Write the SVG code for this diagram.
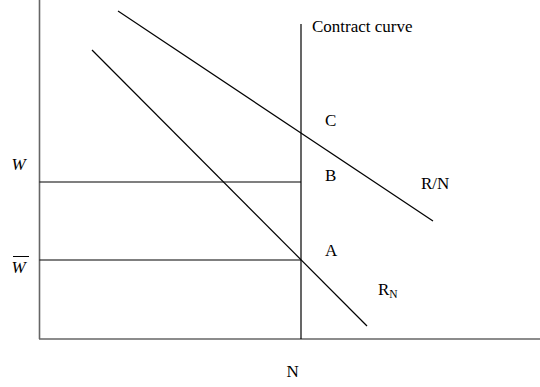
<svg xmlns="http://www.w3.org/2000/svg" width="540" height="387" viewBox="0 0 540 387">
<style>
.t{font-family:"Liberation Serif","Times New Roman",serif;font-size:17px;fill:#000}
.ax{stroke:#666;stroke-width:1.6;fill:none}
.ln{stroke:#000;stroke-width:1.2;fill:none}
</style>
<rect width="540" height="387" fill="#fff"/>
<g id="axes">
<line class="ax" x1="39.5" y1="0" x2="39.5" y2="339"/>
<line class="ax" x1="39" y1="339" x2="540" y2="339"/>
</g>
<g id="connectors">
<line class="ln" x1="301" y1="24" x2="301" y2="339"/>
<line class="ln" x1="39.5" y1="182" x2="301" y2="182"/>
<line class="ln" x1="39.5" y1="260" x2="301" y2="260"/>
<line class="ln" x1="118" y1="11" x2="433" y2="221"/>
<line class="ln" x1="92" y1="50" x2="367" y2="326"/>
</g>
<g id="contract-curve"><text class="t" x="312" y="32">Contract curve</text></g>
<g id="C"><text class="t" x="325" y="125.5">C</text></g>
<g id="B"><text class="t" x="325" y="181">B</text></g>
<g id="A"><text class="t" x="325" y="256">A</text></g>
<g id="RN-line"><text class="t" x="421" y="189">R/N</text></g>
<g id="RN"><text class="t" x="378" y="295">R<tspan font-size="11.5" dy="3">N</tspan></text></g>
<g id="W"><text class="t" x="11.5" y="170" font-style="italic">W</text></g>
<g id="Wbar"><text class="t" x="11.5" y="273" font-style="italic">W</text><line x1="13" y1="256.5" x2="29" y2="256.5" stroke="#000" stroke-width="1"/></g>
<g id="N"><text class="t" x="286.5" y="377">N</text></g>
</svg>
